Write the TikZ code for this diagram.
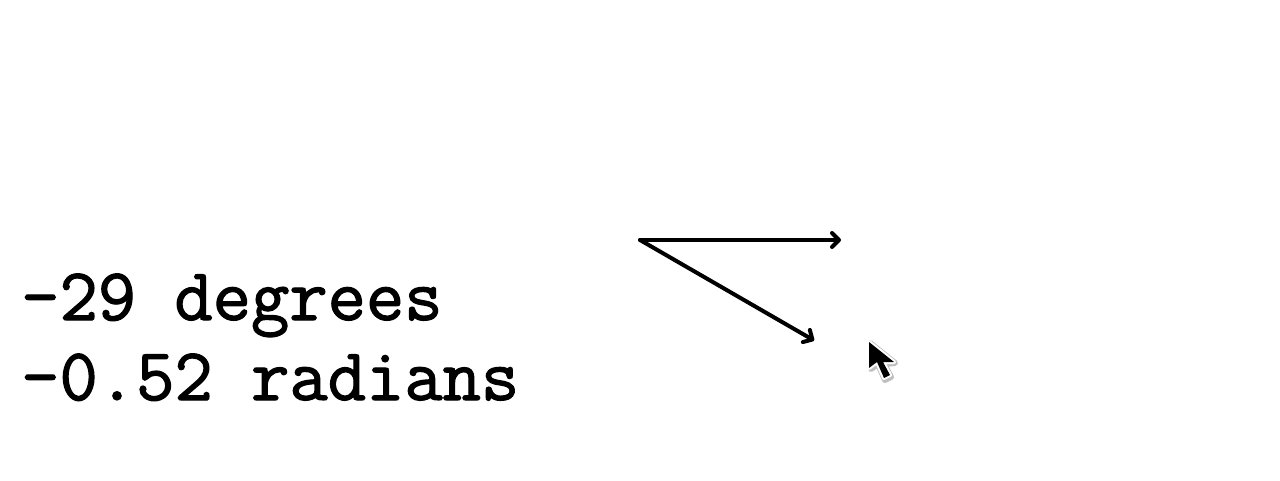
\documentclass[tikz,border=0pt]{standalone}
\usepackage{fontspec}
\usetikzlibrary{arrows.meta}
\newfontfamily\readfont[RawFeature={embolden=1.6}]{Latin Modern Mono}
\tikzset{readout/.style={anchor=base west,inner sep=0pt,font=\readfont\fontsize{74.4pt}{74.4pt}\selectfont},
vec/.style={line width=4pt,line cap=round,-{Straight Barb[length=7pt,width=14pt,line width=4pt,round]}},
cursorshape/.style={line join=round}}
\begin{document}
\begin{tikzpicture}[x=1pt,y=-1pt]
\useasboundingbox (0,0) rectangle (1280,480);
\fill[white] (0,0) rectangle (1280,480);
\node[readout] (deg) at (21,320) {-29 degrees};
\node[readout] (rad) at (21,400) {-0.52 radians};
\coordinate (o) at (640,240);
\coordinate (a) at (842,240);
\coordinate (b) at (815,341);
\draw[vec,shorten >=1pt] (o) -- (a);
\draw[vec,shorten >=1pt] (o) -- (b);
\draw[cursorshape,draw=black!25,line width=6pt] (870,343) -- (871,369) -- (878,364) -- (885,380) -- (891,377) -- (884,364) -- (895,363) -- cycle;
\draw[cursorshape,draw=white,line width=4pt] (869,342) -- (869,368) -- (877,362) -- (884,378) -- (890,375) -- (883,362) -- (894,362) -- cycle;
\fill[black,cursorshape] (869,342) -- (869,368) -- (877,362) -- (884,378) -- (890,375) -- (883,362) -- (894,362) -- cycle;
\end{tikzpicture}
\end{document}
